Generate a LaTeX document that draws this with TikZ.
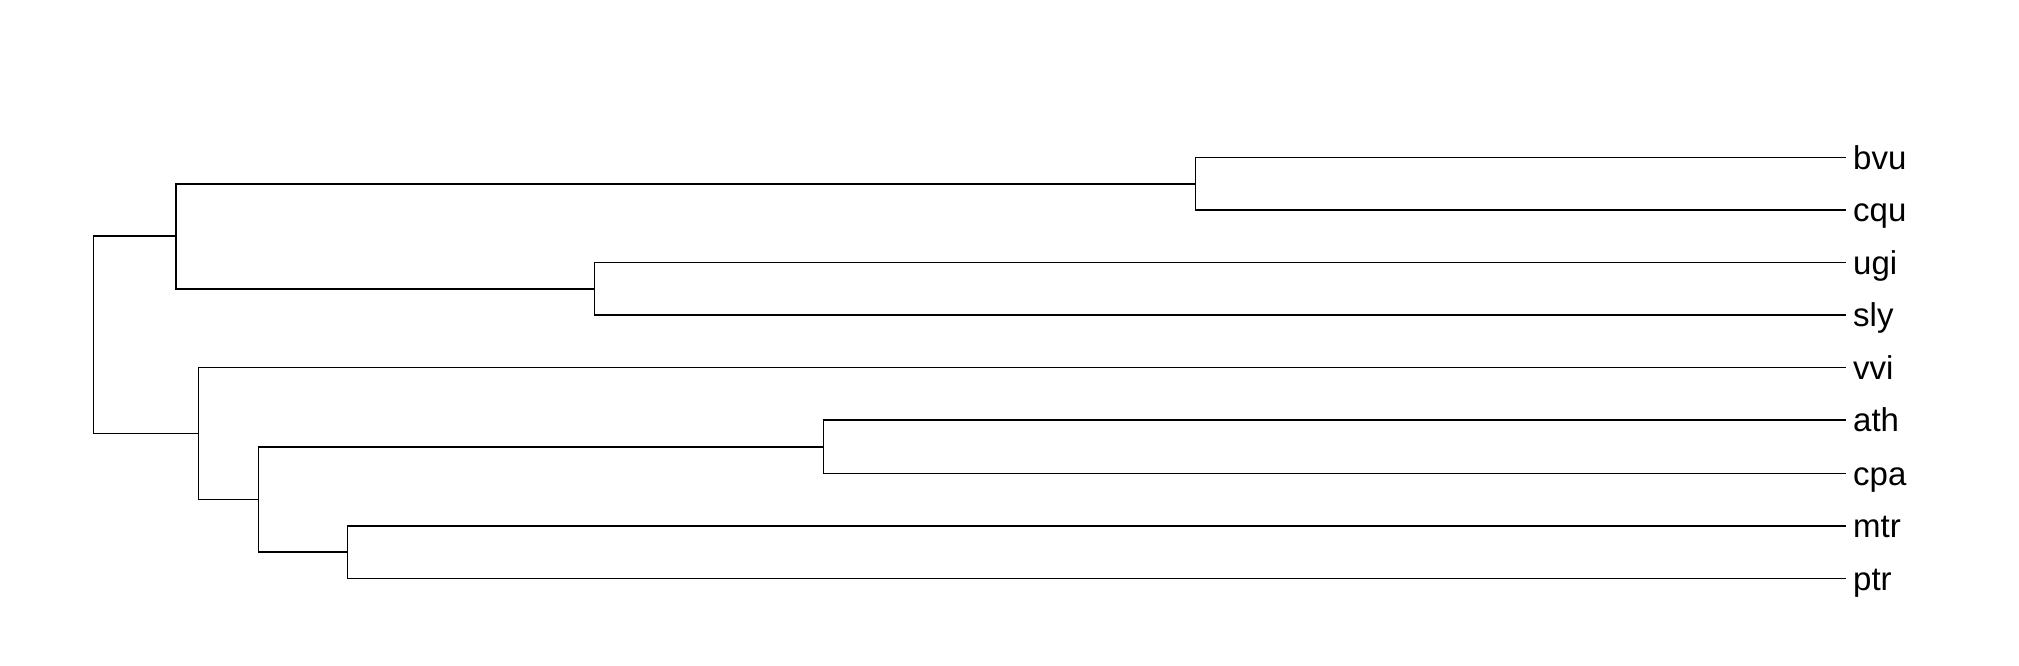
\documentclass[tikz,border=0pt]{standalone}
\usepackage{fontspec}
\setmainfont{Liberation Sans}
\begin{document}
\begin{tikzpicture}[x=1pt,y=-1pt,
  branch/.style={draw=black,line width=1.7pt,line cap=rect},
  leaflabel/.style={anchor=base west,inner sep=0pt,font=\fontsize{33}{39}\selectfont}]
\useasboundingbox (0,0) rectangle (2019,666);
% leaf ends
\def\xe{1845}
\coordinate (bvu) at (\xe,157.5);
\coordinate (cqu) at (\xe,210);
\coordinate (ugi) at (\xe,262.5);
\coordinate (sly) at (\xe,315);
\coordinate (vvi) at (\xe,367.5);
\coordinate (ath) at (\xe,420);
\coordinate (cpa) at (\xe,473.5);
\coordinate (mtr) at (\xe,526);
\coordinate (ptr) at (\xe,578.5);
% internal nodes
\coordinate (E) at (1195.5,183.75);
\coordinate (F) at (594.5,288.75);
\coordinate (A) at (176,236.25);
\coordinate (G) at (823.5,446.75);
\coordinate (D) at (347.5,552.25);
\coordinate (C) at (258.5,499.5);
\coordinate (B) at (198.5,433.5);
\coordinate (R) at (93.5,334.9);
% branches
\draw[branch] (bvu) -| (E) |- (cqu);
\draw[branch] (ugi) -| (F) |- (sly);
\draw[branch] (E) -| (A) |- (F);
\draw[branch] (ath) -| (G) |- (cpa);
\draw[branch] (mtr) -| (D) |- (ptr);
\draw[branch] (G) -| (C) |- (D);
\draw[branch] (vvi) -| (B) |- (C);
\draw[branch] (A) -| (R) |- (B);
% labels
\foreach \n in {bvu,cqu,ugi,sly,vvi,ath,cpa,mtr,ptr}{
  \node[leaflabel] (l\n) at ([xshift=8pt,yshift=-11.5pt]\n) {\n};
}
\end{tikzpicture}
\end{document}
